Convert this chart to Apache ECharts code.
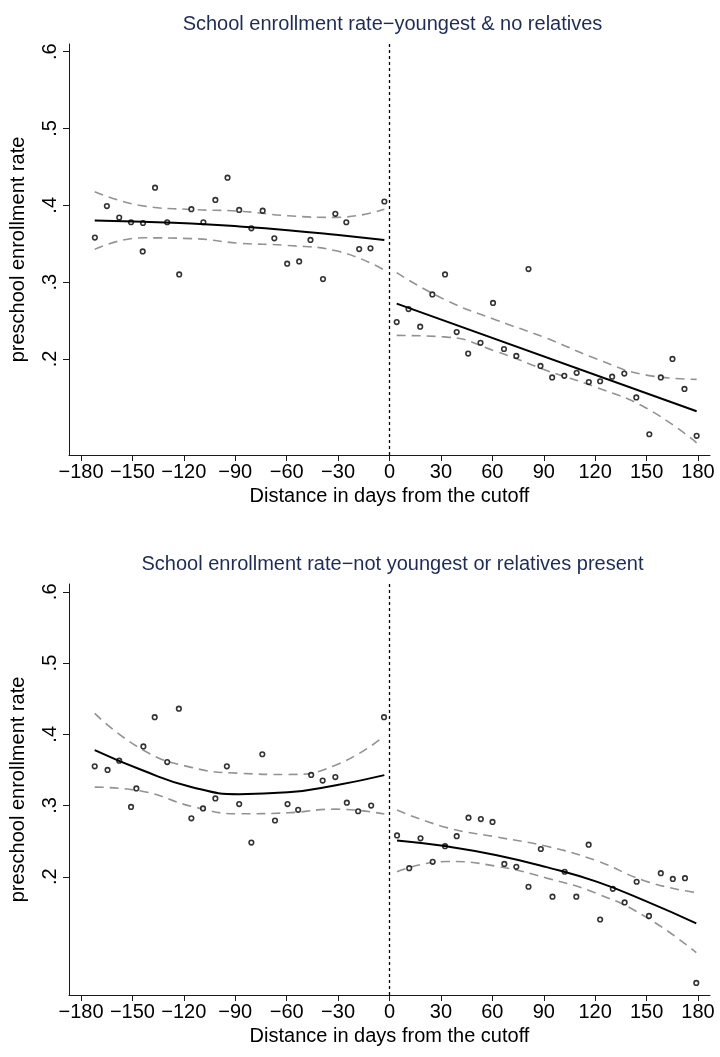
<!DOCTYPE html>
<html>
<head>
<meta charset="utf-8">
<script src="https://cdn.jsdelivr.net/npm/echarts@6/dist/echarts.min.js"></script>
<style>
  html, body { margin: 0; padding: 0; background: #ffffff; }
  #chart { width: 720px; height: 1057px; }
</style>
</head>
<body>
<div id="chart"></div>
<script>
// Tick labels
const xTicks = [-180, -150, -120, -90, -60, -30, 0, 30, 60, 90, 120, 150, 180];
const yTicks = [0.2, 0.3, 0.4, 0.5, 0.6];

const panelTitles = [
  'School enrollment rate\u2212youngest & no relatives',
  'School enrollment rate\u2212not youngest or relatives present'
];

// Panel 1: youngest & no relatives — binned means
const topLeftDays = [-171.9, -164.9, -157.7, -150.8, -143.8, -144.0, -136.8, -129.7, -122.7, -115.6, -108.6, -101.6, -94.5, -87.7, -80.6, -74.0, -67.2, -59.7, -52.7, -46.1, -38.8, -31.6, -25.2, -17.7, -11.1, -3.0];
const topLeftRate = [0.358, 0.399, 0.384, 0.378, 0.377, 0.340, 0.423, 0.378, 0.310, 0.395, 0.378, 0.407, 0.436, 0.394, 0.370, 0.393, 0.357, 0.324, 0.327, 0.355, 0.304, 0.389, 0.378, 0.343, 0.344, 0.405];
const topRightDays = [4.2, 11.1, 17.9, 25.0, 32.4, 39.2, 45.9, 53.1, 60.4, 66.8, 74.0, 81.1, 88.1, 94.9, 102.0, 109.2, 116.3, 122.9, 129.9, 137.0, 144.0, 151.6, 158.3, 165.1, 172.1, 179.2];
const topRightRate = [0.248, 0.265, 0.242, 0.284, 0.310, 0.235, 0.207, 0.221, 0.273, 0.213, 0.204, 0.317, 0.191, 0.176, 0.178, 0.182, 0.170, 0.171, 0.177, 0.181, 0.150, 0.102, 0.176, 0.200, 0.161, 0.100];

// Panel 2: not youngest or relatives present — binned means
const bottomLeftDays = [-172.0, -164.5, -157.7, -150.8, -147.7, -143.6, -137.0, -129.7, -122.9, -115.6, -108.8, -101.6, -94.9, -87.7, -80.6, -74.2, -66.8, -59.5, -53.3, -45.7, -39.0, -31.6, -24.9, -18.3, -10.7, -3.2];
const bottomLeftRate = [0.355, 0.350, 0.363, 0.298, 0.324, 0.383, 0.424, 0.361, 0.436, 0.282, 0.296, 0.310, 0.355, 0.302, 0.248, 0.372, 0.279, 0.302, 0.294, 0.343, 0.335, 0.340, 0.304, 0.292, 0.300, 0.424];
const bottomRightDays = [4.4, 11.5, 18.1, 25.2, 32.4, 39.2, 46.1, 53.3, 60.1, 67.0, 74.0, 81.1, 88.3, 95.1, 102.2, 109.0, 116.2, 122.9, 130.3, 137.2, 144.2, 151.4, 158.3, 165.3, 172.4, 179.0];
const bottomRightRate = [0.258, 0.212, 0.254, 0.221, 0.243, 0.257, 0.283, 0.281, 0.277, 0.218, 0.214, 0.186, 0.239, 0.172, 0.207, 0.172, 0.245, 0.140, 0.183, 0.164, 0.193, 0.145, 0.205, 0.197, 0.198, 0.051];

// Fitted curves and 95% bands, sampled at evenly spaced days on each side
const leftDays = [-172, -143.8, -115.7, -87.5, -59.3, -31.2, -3];
const topRightCurveDays = [4.2, 33.4, 62.5, 91.7, 120.9, 150.0, 179.2];
const bottomRightCurveDays = [4.4, 33.5, 62.6, 91.7, 120.8, 149.9, 179.0];

const topLeftFit = [0.3804, 0.3786, 0.3762, 0.3725, 0.3677, 0.3617, 0.3550];
const topLeftUpper = [0.4177, 0.3993, 0.3946, 0.3923, 0.3864, 0.3843, 0.3948];
const topLeftLower = [0.3427, 0.3577, 0.3567, 0.3507, 0.3477, 0.3408, 0.3158];
const topRightFitEnds = [[4.2, 0.272], [179.2, 0.132]];
const topRightUpper = [0.3123, 0.2760, 0.2505, 0.2270, 0.2000, 0.1790, 0.1734];
const topRightLower = [0.2307, 0.2285, 0.2095, 0.1850, 0.1629, 0.1358, 0.0909];

const bottomLeftFit = [0.3778, 0.3491, 0.3261, 0.3160, 0.3185, 0.3285, 0.3427];
const bottomLeftUpper = [0.4293, 0.3780, 0.3536, 0.3453, 0.3436, 0.3569, 0.3975];
const bottomLeftLower = [0.3259, 0.3198, 0.2991, 0.2884, 0.2898, 0.2949, 0.2880];
const bottomRightFit = [0.2510, 0.2427, 0.2303, 0.2135, 0.1931, 0.1655, 0.1346];
const bottomRightUpper = [0.2936, 0.2690, 0.2558, 0.2428, 0.2225, 0.1935, 0.1776];
const bottomRightLower = [0.2071, 0.2214, 0.2147, 0.1981, 0.1766, 0.1431, 0.0934];

const FONT = "'Liberation Sans', Arial, Helvetica, sans-serif";
const AXIS_COLOR = '#1a1a1a';
const TITLE_COLOR = '#1d2b5a';
const BAND_COLOR = '#939393';

const zip = (xs, ys) => xs.map((x, i) => [x, ys[i]]);
const minus = (v) => String(v).replace('-', '\u2212');

function xAxisFor(gridIndex) {
  return {
    type: 'value', gridIndex,
    min: -187, max: 187,
    name: 'Distance in days from the cutoff',
    nameLocation: 'middle', nameGap: 31,
    nameTextStyle: { fontFamily: FONT, fontSize: 20, color: '#000' },
    axisLine: { show: true, onZero: false, lineStyle: { color: AXIS_COLOR, width: 1 } },
    axisTick: { show: true, length: 6, customValues: xTicks, lineStyle: { color: AXIS_COLOR } },
    axisLabel: { customValues: xTicks, margin: 7, fontFamily: FONT, fontSize: 20, color: '#000', formatter: minus },
    splitLine: { show: false }
  };
}

function yAxisFor(gridIndex, min, max) {
  return {
    type: 'value', gridIndex, min, max,
    name: 'preschool enrollment rate',
    nameLocation: 'middle', nameGap: 41, nameRotate: 90,
    nameTextStyle: { fontFamily: FONT, fontSize: 20, color: '#000' },
    axisLine: { show: true, onZero: false, lineStyle: { color: AXIS_COLOR, width: 1 } },
    axisTick: { show: true, length: 6, customValues: yTicks, lineStyle: { color: AXIS_COLOR } },
    axisLabel: {
      customValues: yTicks, rotate: 90, margin: 9, align: 'center', verticalAlign: 'bottom',
      fontFamily: FONT, fontSize: 20, color: '#000',
      formatter: (v) => String(Math.round(v * 10) / 10).replace(/^0/, '')
    },
    splitLine: { show: false }
  };
}

function panelSeries(g, leftPts, rightPts, fits, bands) {
  const out = [];
  const scatter = (data) => ({
    type: 'scatter', xAxisIndex: g, yAxisIndex: g, data,
    symbol: 'circle', symbolSize: 4.6,
    itemStyle: { color: '#ffffff', borderColor: '#000000', borderWidth: 1.6 },
    z: 3
  });
  out.push(scatter(leftPts), scatter(rightPts));
  bands.forEach((b) => out.push({
    type: 'line', xAxisIndex: g, yAxisIndex: g, data: b,
    smooth: 0.5, showSymbol: false, symbol: 'none',
    lineStyle: { color: BAND_COLOR, width: 1.6, type: [9, 6] }, z: 2
  }));
  fits.forEach((f) => out.push({
    type: 'line', xAxisIndex: g, yAxisIndex: g, data: f,
    smooth: f.length > 2 ? 0.5 : false, showSymbol: false, symbol: 'none',
    lineStyle: { color: '#000000', width: 2 }, z: 4
  }));
  // Vertical dashed line at the cutoff
  out.push({
    type: 'line', xAxisIndex: g, yAxisIndex: g, data: [],
    markLine: {
      silent: true, symbol: 'none', label: { show: false },
      lineStyle: { color: '#000000', width: 1.3, type: [3, 3] },
      data: [{ xAxis: 0 }]
    }
  });
  return out;
}

const chart = echarts.init(document.getElementById('chart'), null, { renderer: 'canvas' });
chart.setOption({
  backgroundColor: '#ffffff',
  animation: false,
  title: panelTitles.map((t, i) => ({
    text: t, left: 387.5, top: 9 + i * 540, textAlign: 'center',
    textStyle: { fontFamily: FONT, fontSize: 20, fontWeight: 'normal', color: TITLE_COLOR }
  })),
  grid: [
    { left: 65.5, top: 44, width: 644.5, height: 411 },
    { left: 65.5, top: 584, width: 644.5, height: 411 }
  ],
  xAxis: [xAxisFor(0), xAxisFor(1)],
  yAxis: [yAxisFor(0, 0.075, 0.61), yAxisFor(1, 0.034, 0.611)],
  series: [
    ...panelSeries(0, zip(topLeftDays, topLeftRate), zip(topRightDays, topRightRate),
      [zip(leftDays, topLeftFit), topRightFitEnds],
      [zip(leftDays, topLeftUpper), zip(leftDays, topLeftLower),
       zip(topRightCurveDays, topRightUpper), zip(topRightCurveDays, topRightLower)]),
    ...panelSeries(1, zip(bottomLeftDays, bottomLeftRate), zip(bottomRightDays, bottomRightRate),
      [zip(leftDays, bottomLeftFit), zip(bottomRightCurveDays, bottomRightFit)],
      [zip(leftDays, bottomLeftUpper), zip(leftDays, bottomLeftLower),
       zip(bottomRightCurveDays, bottomRightUpper), zip(bottomRightCurveDays, bottomRightLower)])
  ]
});
</script>
</body>
</html>
